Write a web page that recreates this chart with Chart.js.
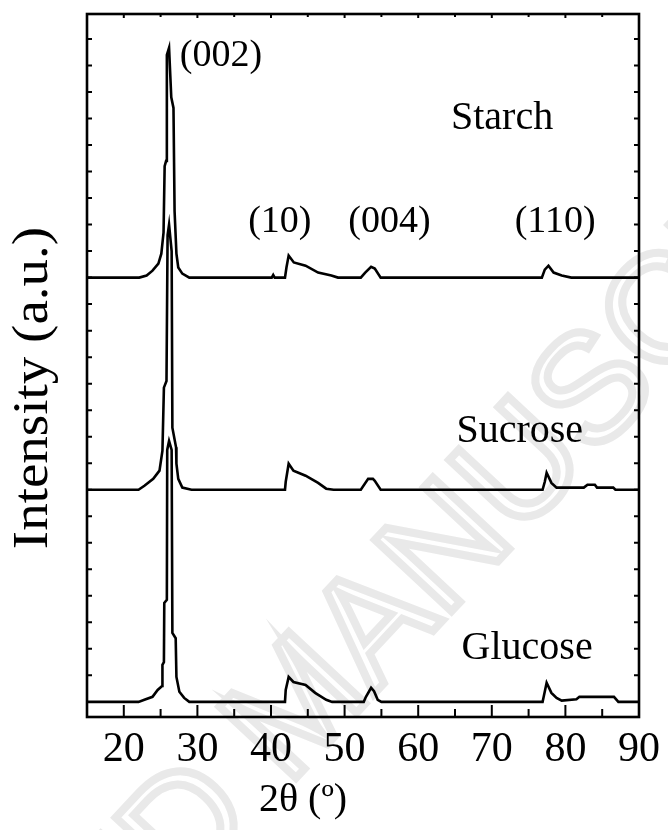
<!DOCTYPE html>
<html lang="en">
<head>
    <meta charset="UTF-8">
    <title>XRD patterns</title>
    <script src="https://cdn.jsdelivr.net/npm/chart.js"></script>
    <style>
body {
  margin: 0;
  background: #fff;
}
.wrap {
  width: 668px;
  height: 830px;
}
    </style>
</head>
<body>
    <div class="wrap"><canvas id="xrd" width="668" height="830"></canvas></div>

    <script>
// 2θ positions and intensities (a.u.), baseline = 0
const starchTheta = [15, 22.1, 23.1, 23.9, 24.7, 25.1, 25.4, 25.55, 25.75, 25.85, 26.15, 26.45, 26.75, 26.9, 27.15, 27.4, 27.95, 28.9,
    40.1, 40.3, 40.5, 41.9, 42.1, 42.4, 43.1, 44.7, 46.4, 48.2, 49.1,
    52.2, 52.8, 53.6, 54.1, 54.9, 76.8, 77.2, 77.7, 78.4, 79.5, 80.8, 90];
const starchI = [0, 0, 0.08, 0.26, 0.53, 0.9, 1.7, 4.2, 4.4, 8.4, 8.67, 6.8, 6.4, 2.5, 0.9, 0.38, 0.15, 0,
    0, 0.1, 0, 0, 0.38, 0.83, 0.57, 0.45, 0.19, 0.08, 0,
    0, 0.19, 0.41, 0.34, 0, 0, 0.3, 0.45, 0.19, 0.08, 0, 0];

const sucroseTheta = [15, 22.0, 22.8, 24.0, 24.85, 25.25, 25.45, 25.8, 25.95, 26.15, 26.5, 26.6, 27.1, 27.15, 27.4, 27.95, 29.2,
    41.9, 42.0, 42.4, 43.05, 44.7, 46.4, 47.5, 48.5,
    52.2, 53.2, 53.85, 54.1, 54.9,
    76.9, 77.2, 77.45, 78.1, 78.8, 82.5, 83.0, 84.0, 84.3, 86.5, 86.8, 90];
const sucroseI = [0, 0, 0.15, 0.41, 0.72, 1.47, 3.85, 4.1, 9.6, 10.0, 9.0, 2.34, 1.6, 0.98, 0.41, 0.08, 0,
    0, 0.3, 0.98, 0.72, 0.53, 0.26, 0.04, 0,
    0, 0.41, 0.41, 0.34, 0,
    0, 0.3, 0.64, 0.26, 0.08, 0.08, 0.19, 0.19, 0.08, 0.08, 0, 0];

const glucoseTheta = [15, 22.0, 22.8, 23.9, 24.6, 25.2, 25.25, 25.45, 25.5, 25.85, 25.9, 26.15, 26.5, 26.6, 27.05, 27.15, 27.55, 28.2, 28.9,
    41.9, 42.0, 42.4, 43.05, 44.7, 46.0, 47.5, 48.3,
    52.6, 52.9, 53.6, 54.0, 54.5, 55.0,
    76.9, 77.05, 77.45, 78.1, 78.8, 79.5, 81.5, 81.9, 86.6, 87.2, 90];
const glucoseI = [0, 0, 0.08, 0.19, 0.45, 0.6, 1.4, 1.5, 3.73, 3.85, 9.5, 9.84, 9.5, 2.6, 2.4, 0.94, 0.38, 0.15, 0,
    0, 0.45, 0.94, 0.75, 0.64, 0.34, 0.08, 0,
    0, 0.19, 0.53, 0.4, 0.08, 0,
    0, 0.19, 0.72, 0.34, 0.15, 0.05, 0.1, 0.19, 0.19, 0, 0];

// vertical stacking of the three patterns
const offsets = [16, 8, 0];
const sampleNames = ['Starch', 'Sucrose', 'Glucose'];

// axis ticks
const xTicks = [20, 30, 40, 50, 60, 70, 80, 90];
const xMinorTicks = [15, 25, 35, 45, 55, 65, 75, 85];
const yTicks = [0, 1, 2, 3, 4, 5, 6, 7, 8, 9, 10, 11, 12, 13, 14, 15, 16, 17, 18, 19, 20, 21, 22, 23, 24, 25];

// peak labels: [text, 2θ, intensity]
const peakLabels = [
    ['(002)', 33.2, 24.35],
    ['(10)', 41.2, 18.1],
    ['(004)', 56.1, 18.1],
    ['(110)', 78.6, 18.1]
];
// sample labels: [2θ, intensity]
const sampleLabelPos = [[71.4, 22.0], [73.8, 10.2], [74.8, 2.0]];

const SERIF = "'Liberation Serif', 'DejaVu Serif', serif";

function toPoints(theta, inten, off) {
    return theta.map((t, i) => ({ x: t, y: inten[i] + off }));
}

const lineStyle = {
    borderColor: '#000',
    borderWidth: 2.6,
    pointRadius: 0,
    tension: 0,
    fill: false
};

const decorPlugin = {
    id: 'decor',
    beforeDraw(chart) {
        const ctx = chart.ctx;
        // faint watermark behind everything
        ctx.save();
        ctx.translate(300, 712);
        ctx.rotate(-47 * Math.PI / 180);
        ctx.font = "152px 'Liberation Sans', sans-serif";
        ctx.textBaseline = 'middle';
        ctx.strokeStyle = '#e9e9e9';
        ctx.lineWidth = 8;
        const mW = ctx.measureText('M').width;
        ctx.textAlign = 'right';
        ctx.strokeText('ACCEPTED ', -mW / 2, 0);
        ctx.textAlign = 'left';
        ctx.strokeText('MANUSCRIPT', -mW / 2, 0);
        ctx.restore();
    },
    afterDraw(chart) {
        const ctx = chart.ctx;
        const a = chart.chartArea;
        const xs = chart.scales.x;
        const ys = chart.scales.y;
        ctx.save();
        ctx.strokeStyle = '#000';
        ctx.lineWidth = 2;
        ctx.beginPath();
        xTicks.forEach(v => {
            const px = xs.getPixelForValue(v);
            ctx.moveTo(px, a.bottom); ctx.lineTo(px, a.bottom - 12);
            ctx.moveTo(px, a.top); ctx.lineTo(px, a.top + 4);
        });
        xMinorTicks.forEach(v => {
            const px = xs.getPixelForValue(v);
            ctx.moveTo(px, a.bottom); ctx.lineTo(px, a.bottom - 8);
            ctx.moveTo(px, a.top); ctx.lineTo(px, a.top + 3);
        });
        yTicks.forEach(v => {
            const py = ys.getPixelForValue(v);
            ctx.moveTo(a.left, py); ctx.lineTo(a.left + 5, py);
            ctx.moveTo(a.right, py); ctx.lineTo(a.right - 5, py);
        });
        ctx.stroke();
        ctx.lineWidth = 2.6;
        ctx.strokeRect(a.left, a.top, a.right - a.left, a.bottom - a.top);

        ctx.fillStyle = '#000';
        ctx.textAlign = 'center';
        ctx.textBaseline = 'middle';
        ctx.font = '38px ' + SERIF;
        peakLabels.forEach(p => {
            ctx.fillText(p[0], xs.getPixelForValue(p[1]), ys.getPixelForValue(p[2]));
        });
        ctx.font = '40px ' + SERIF;
        sampleNames.forEach((n, i) => {
            const pos = sampleLabelPos[i];
            ctx.fillText(n, xs.getPixelForValue(pos[0]), ys.getPixelForValue(pos[1]));
        });

        // axis titles
        ctx.font = '40px ' + SERIF;
        ctx.fillText('2θ (º)', 303, 800);
        ctx.save();
        ctx.translate(34, 388);
        ctx.rotate(-Math.PI / 2);
        ctx.scale(1.1, 1);
        ctx.font = '50px ' + SERIF;
        ctx.fillText('Intensity (a.u.)', 0, 0);
        ctx.restore();
        ctx.restore();
    }
};

function createChart() {
    const ctx = document.getElementById('xrd').getContext('2d');
    const series = [[starchTheta, starchI], [sucroseTheta, sucroseI], [glucoseTheta, glucoseI]];
    new Chart(ctx, {
        type: 'line',
        data: {
            datasets: series.map((s, i) => Object.assign({
                label: sampleNames[i],
                data: toPoints(s[0], s[1], offsets[i])
            }, lineStyle))
        },
        options: {
            responsive: false,
            animation: false,
            events: [],
            layout: { padding: { top: 14, right: 25, left: 0, bottom: 0 } },
            plugins: {
                legend: { display: false },
                tooltip: { enabled: false }
            },
            scales: {
                x: {
                    type: 'linear',
                    min: 15,
                    max: 90,
                    afterBuildTicks: s => { s.ticks = xTicks.map(v => ({ value: v })); },
                    afterFit: s => { s.height = 113; },
                    grid: { display: false, drawTicks: false },
                    border: { display: false },
                    ticks: {
                        color: '#000',
                        padding: 8,
                        maxRotation: 0,
                        font: { family: SERIF, size: 42 }
                    }
                },
                y: {
                    type: 'linear',
                    min: -0.57,
                    max: 25.94,
                    afterFit: s => { s.width = 87; },
                    grid: { display: false, drawTicks: false },
                    border: { display: false },
                    ticks: { display: false }
                }
            }
        },
        plugins: [decorPlugin]
    });
}

if (document.readyState === 'loading') {
    document.addEventListener('DOMContentLoaded', createChart);
} else {
    createChart();
}
    </script>
</body>
</html>
